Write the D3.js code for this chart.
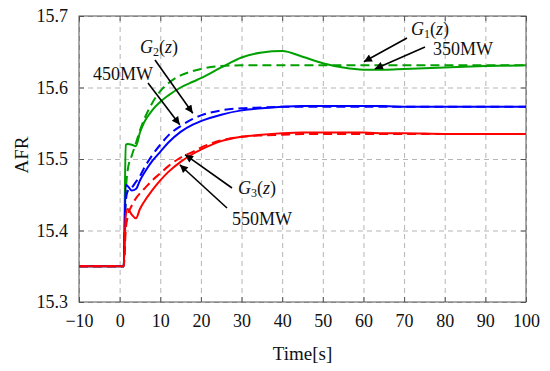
<!DOCTYPE html>
<html>
<head>
<meta charset="utf-8">
<script src="https://cdn.jsdelivr.net/npm/d3@7"></script>
<style>
  body { margin: 0; background: #fff; }
  text { font-family: "Liberation Serif", "DejaVu Serif", serif; fill: #111; }
  .grid line { stroke: #b5b5b5; stroke-dasharray: 5,4; }
  .grid path { display: none; }
  .axis path { display: none; }
  .axis line { stroke: #555; }
</style>
</head>
<body>
<div id="chart-area"></div>
<script>
// time points (s)
var time = [-10, 1, 1.5, 2, 3, 4, 5, 6, 8, 10, 12, 15, 18, 20, 25, 30, 35, 40, 45, 50, 55, 60, 65, 70, 80, 90, 100];

// 350MW / G1(z)
var green350 = [15.35, 15.35, 15.52, 15.521, 15.52, 15.518, 15.537, 15.551, 15.568, 15.58, 15.589, 15.600, 15.608, 15.613, 15.628, 15.642, 15.649, 15.651, 15.643, 15.634, 15.628, 15.625, 15.625, 15.626, 15.628, 15.630, 15.631];
var greenG1 = [15.35, 15.35, 15.45, 15.485, 15.505, 15.522, 15.540, 15.555, 15.578, 15.595, 15.606, 15.617, 15.623, 15.626, 15.630, 15.631, 15.631, 15.631, 15.631, 15.631, 15.631, 15.631, 15.631, 15.631, 15.631, 15.631, 15.631];
// 450MW / G2(z)
var blue450 = [15.35, 15.35, 15.464, 15.462, 15.456, 15.458, 15.470, 15.480, 15.497, 15.510, 15.523, 15.538, 15.548, 15.553, 15.562, 15.568, 15.571, 15.573, 15.574, 15.574, 15.574, 15.574, 15.574, 15.573, 15.573, 15.573, 15.573];
var blueG2 = [15.35, 15.35, 15.44, 15.455, 15.460, 15.468, 15.476, 15.487, 15.505, 15.520, 15.533, 15.546, 15.556, 15.561, 15.568, 15.571, 15.572, 15.573, 15.573, 15.573, 15.573, 15.573, 15.573, 15.573, 15.573, 15.573, 15.573];
// 550MW / G3(z)
var red550 = [15.35, 15.35, 15.42, 15.43, 15.422, 15.417, 15.430, 15.440, 15.456, 15.470, 15.482, 15.496, 15.507, 15.513, 15.525, 15.531, 15.534, 15.536, 15.537, 15.537, 15.537, 15.537, 15.536, 15.536, 15.535, 15.535, 15.535];
var redG3 = [15.35, 15.35, 15.40, 15.42, 15.435, 15.445, 15.452, 15.458, 15.470, 15.480, 15.490, 15.502, 15.510, 15.516, 15.526, 15.531, 15.533, 15.534, 15.535, 15.535, 15.535, 15.535, 15.535, 15.535, 15.535, 15.535, 15.535];

var xTicks = [-10, 0, 10, 20, 30, 40, 50, 60, 70, 80, 90, 100];
var yTicks = [15.3, 15.4, 15.5, 15.6, 15.7];

var margin = { left: 79, right: 24, top: 16, bottom: 69 };
var width = 550 - margin.left - margin.right;
var height = 371 - margin.top - margin.bottom;

var svg = d3.select('#chart-area')
  .append('svg')
    .attr('width', 550)
    .attr('height', 371);

var area = svg.append('g')
  .attr('transform', 'translate(' + margin.left + ', ' + margin.top + ')');

var x = d3.scaleLinear().domain([-10, 100]).range([0, width]);
var y = d3.scaleLinear().domain([15.3, 15.7]).range([height, 0]);

// grid
area.append('g')
  .attr('class', 'grid')
  .attr('transform', 'translate(0, ' + height + ')')
  .call(d3.axisBottom(x).tickValues(xTicks).tickSize(-height).tickFormat(''));
area.append('g')
  .attr('class', 'grid')
  .call(d3.axisLeft(y).tickValues(yTicks).tickSize(-width).tickFormat(''));

// axes with inward ticks
area.append('g')
  .attr('class', 'axis')
  .attr('transform', 'translate(0, ' + height + ')')
  .call(d3.axisBottom(x).tickValues(xTicks).tickSize(-5).tickPadding(12));
area.append('g')
  .attr('class', 'axis')
  .call(d3.axisLeft(y).tickValues(yTicks).tickSize(-5).tickPadding(11).tickFormat(d3.format('.1f')));
area.append('g')
  .attr('class', 'axis')
  .call(d3.axisTop(x).tickValues(xTicks).tickSize(-5).tickFormat(''));
area.append('g')
  .attr('class', 'axis')
  .attr('transform', 'translate(' + width + ', 0)')
  .call(d3.axisRight(y).tickValues(yTicks).tickSize(-5).tickFormat(''));

area.selectAll('.axis text')
  .attr('font-size', '18px')
  .attr('font-family', '"Liberation Serif", serif')
  .attr('fill', '#111');

area.append('rect')
  .attr('width', width)
  .attr('height', height)
  .attr('fill', 'none')
  .attr('stroke', '#555')
  .attr('stroke-width', 1);

// lines
var series = [
  { values: greenG1, color: '#00a000', dash: '9,5' },
  { values: green350, color: '#00a000', dash: null },
  { values: blueG2, color: '#0000ff', dash: '9,5' },
  { values: blue450, color: '#0000ff', dash: null },
  { values: redG3, color: '#ff0000', dash: '9,5' },
  { values: red550, color: '#ff0000', dash: null }
];

var line = d3.line()
  .x((d) => { return x(d[0]); })
  .y((d) => { return y(d[1]); })
  .curve(d3.curveMonotoneX);

series.forEach((s) => {
  area.append('path')
    .datum(time.map((t, i) => { return [t, s.values[i]]; }))
    .attr('fill', 'none')
    .attr('stroke', s.color)
    .attr('stroke-width', 2)
    .attr('stroke-dasharray', s.dash)
    .attr('d', line);
});

// arrows
svg.append('defs').append('marker')
  .attr('id', 'head')
  .attr('viewBox', '0 0 10 10')
  .attr('refX', 10)
  .attr('refY', 5)
  .attr('markerWidth', 11)
  .attr('markerHeight', 8)
  .attr('markerUnits', 'userSpaceOnUse')
  .attr('orient', 'auto')
  .append('path')
    .attr('d', 'M0,0 L10,5 L0,10 Z')
    .attr('fill', '#000');

var arrows = [
  { x1: 407, y1: 38, t: 60.1, v: 15.636 },
  { x1: 425, y1: 47, t: 62.8, v: 15.626 },
  { x1: 155, y1: 60, t: 18.0, v: 15.564 },
  { x1: 148, y1: 83, t: 14.8, v: 15.548 },
  { x1: 232, y1: 188, t: 16.1, v: 15.506 },
  { x1: 227, y1: 208, t: 14.8, v: 15.492 }
];

arrows.forEach((a) => {
  svg.append('line')
    .attr('x1', a.x1)
    .attr('y1', a.y1)
    .attr('x2', margin.left + x(a.t))
    .attr('y2', margin.top + y(a.v))
    .attr('stroke', '#000')
    .attr('stroke-width', 1.6)
    .attr('marker-end', 'url(#head)');
});

// labels
function gLabel(px, py, sub) {
  var t = svg.append('text')
    .attr('x', px)
    .attr('y', py)
    .attr('font-size', '18px');
  t.append('tspan').attr('font-style', 'italic').text('G');
  t.append('tspan').attr('font-size', '12px').attr('dy', 3).text(sub);
  t.append('tspan').attr('dy', -3).text('(');
  t.append('tspan').attr('font-style', 'italic').text('z');
  t.append('tspan').text(')');
}
gLabel(411, 35, '1');
gLabel(140, 53, '2');
gLabel(238, 194, '3');

var mwLabels = [
  { x: 433, y: 55, text: '350MW' },
  { x: 93, y: 80, text: '450MW' },
  { x: 232, y: 225, text: '550MW' }
];
svg.selectAll('.mw')
  .data(mwLabels)
  .enter()
  .append('text')
    .attr('class', 'mw')
    .attr('x', (d) => { return d.x; })
    .attr('y', (d) => { return d.y; })
    .attr('font-size', '18px')
    .text((d) => { return d.text; });

// axis titles
svg.append('text')
  .attr('x', margin.left + width / 2)
  .attr('y', 360)
  .attr('font-size', '19px')
  .attr('text-anchor', 'middle')
  .text('Time[s]');

svg.append('text')
  .attr('transform', 'translate(28, 155) rotate(-90)')
  .attr('font-size', '19px')
  .attr('text-anchor', 'middle')
  .text('AFR');
</script>
</body>
</html>
